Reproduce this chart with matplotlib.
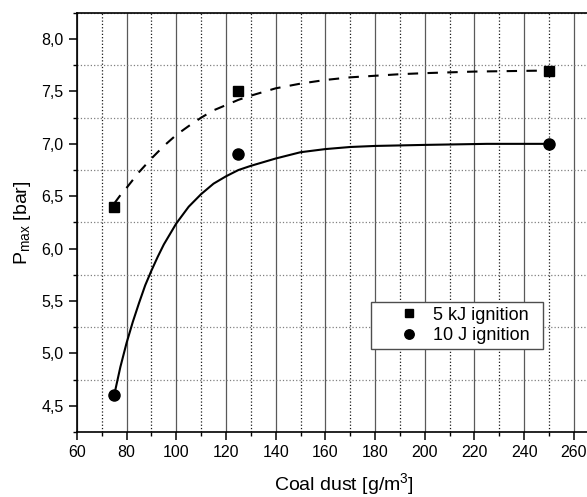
import numpy as np
import matplotlib
matplotlib.use("Agg")
import matplotlib.pyplot as plt
from matplotlib.ticker import MultipleLocator, FuncFormatter
from matplotlib.patches import Rectangle

plt.rcParams['font.family'] = ['Liberation Sans', 'DejaVu Sans']
plt.rcParams['mathtext.fontset'] = 'custom'
plt.rcParams['mathtext.rm'] = 'Liberation Sans'
plt.rcParams['mathtext.it'] = 'Liberation Sans:italic'

# measured points
dust = [75, 125, 250]
p_5kj = [6.4, 7.5, 7.7]
p_10j = [4.6, 6.9, 7.0]

# fitted curves
fit_x_5kj = [75, 77.5, 80, 85, 90, 95, 100, 105, 110, 115, 120, 125, 130, 140,
             150, 160, 170, 180, 190, 200, 220, 250]
fit_y_5kj = [6.43, 6.51, 6.58, 6.73, 6.86, 6.98, 7.085, 7.17, 7.25, 7.32, 7.37, 7.42, 7.46, 7.53,
             7.575, 7.61, 7.635, 7.65, 7.665, 7.675, 7.69, 7.70]
fit_x_10j = [75, 77.5, 80, 82.5, 85, 87.5, 90, 92.5, 95, 97.5, 100, 105, 110, 115, 120, 125,
             130, 140, 150, 160, 170, 180, 200, 225, 250]
fit_y_10j = [4.60, 4.87, 5.10, 5.30, 5.48, 5.65, 5.79, 5.92, 6.04, 6.14, 6.24, 6.40, 6.52, 6.62, 6.69, 6.75,
             6.79, 6.86, 6.92, 6.95, 6.97, 6.98, 6.99, 7.00, 7.00]

fig = plt.figure(figsize=(5.87, 4.97), dpi=100)
ax = fig.add_axes([0.131, 0.131, 0.91, 0.843])

ax.plot(fit_x_5kj, fit_y_5kj, color='black', lw=1.5, ls=(0, (5, 4.5)))
ax.plot(fit_x_10j, fit_y_10j, color='black', lw=1.5)
ax.plot(dust, p_5kj, 's', color='black', ms=7.5, label='5 kJ ignition')
ax.plot(dust, p_10j, 'o', color='black', ms=8, label='10 J ignition')

ax.set_xlim(60, 275)
ax.set_ylim(4.25, 8.25)
ax.xaxis.set_major_locator(MultipleLocator(20))
ax.xaxis.set_minor_locator(MultipleLocator(10))
ax.yaxis.set_major_locator(MultipleLocator(0.5))
ax.yaxis.set_minor_locator(MultipleLocator(0.25))
ax.yaxis.set_major_formatter(FuncFormatter(lambda v, p: f'{v:.1f}'.replace('.', ',')))

ax.grid(axis='x', which='major', color='0.35', ls='-', lw=0.9)
ax.grid(axis='x', which='minor', color='0.1', ls=':', lw=0.9)
ax.grid(axis='y', which='minor', color='0.5', ls=':', lw=0.9)
ax.set_axisbelow(True)

ax.tick_params(which='major', direction='out', length=6, width=1.1, labelsize=11.5)
ax.tick_params(which='minor', direction='out', length=3, width=1.0)
for s in ['left', 'bottom', 'top']:
    ax.spines[s].set_linewidth(1.2)
ax.spines['right'].set_visible(False)

ax.set_xlabel(r'Coal dust [g/m$^3$]', fontsize=14, labelpad=8)
ax.set_ylabel(r'P$_{\mathrm{max}}$ [bar]', fontsize=14, labelpad=6)

# legend box drawn by hand, entries placed inside it
ax.add_patch(Rectangle((0.5506, 0.198), 0.3221, 0.112, transform=ax.transAxes,
                       facecolor='white', edgecolor='0.3', lw=1.0, zorder=4))
leg = ax.legend(loc='center left', bbox_to_anchor=(0.598, 0.254), fontsize=13,
                frameon=False, borderpad=0, borderaxespad=0, markerscale=0.85,
                handletextpad=0.65, labelspacing=0.2, handlelength=1.4)
leg.set_zorder(5)

fig.savefig('out.png', dpi=100)
